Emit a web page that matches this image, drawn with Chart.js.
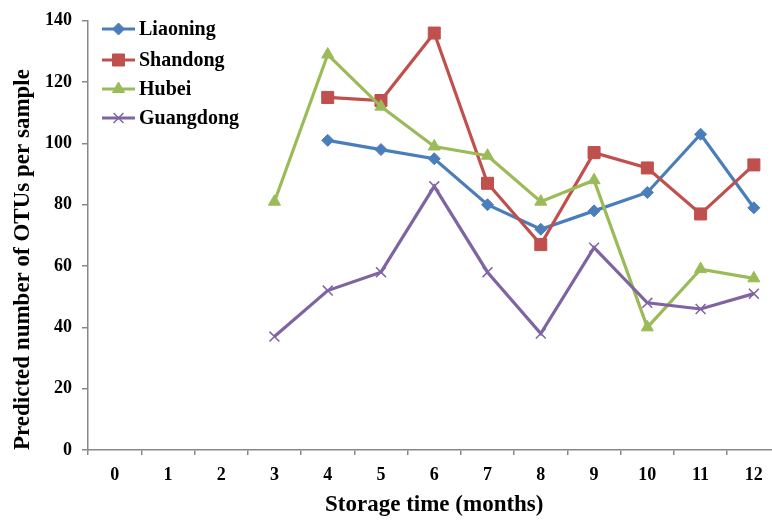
<!DOCTYPE html>
<html>
<head>
<meta charset="utf-8">
<script src="https://cdn.jsdelivr.net/npm/chart.js@4/dist/chart.umd.min.js"></script>
<style>
  html, body { margin: 0; padding: 0; background: #fff; overflow: hidden; }
  #wrap { width: 772px; height: 523px; overflow: hidden; position: relative; }
  canvas { display: block; }
</style>
</head>
<body>
<div id="wrap"><canvas id="c" width="790" height="523" style="width:790px;height:523px"></canvas></div>
<script>
const months = ['0','1','2','3','4','5','6','7','8','9','10','11','12'];
const liaoning  = [null, null, null, null, 101, 98, 95, 80, 72, 78, 84, 103, 79];
const shandong  = [null, null, null, null, 115, 114, 136, 87, 67, 97, 92, 77, 93];
const hubei     = [null, null, null, 81, 129, 112, 99, 96, 81, 88, 40, 59, 56];
const guangdong = [null, null, null, 37, 52, 58, 86, 58, 38, 66, 48, 46, 51];
const yTicks = [0, 20, 40, 60, 80, 100, 120, 140];

const FONT = '"Liberation Serif", "Times New Roman", serif';
const AXIS = '#888888';

function ds(label, data, color, style, radius, order, extra) {
  return Object.assign({
    label, data, order,
    borderColor: color, backgroundColor: color,
    pointBackgroundColor: color, pointBorderColor: color,
    pointStyle: style, pointRadius: radius, pointHoverRadius: radius,
    borderWidth: 3.2, pointBorderWidth: 1, tension: 0, spanGaps: false
  }, extra || {});
}

const datasets = [
  ds('Liaoning', liaoning, '#4A7EBB', 'rectRot', 6, 4),
  ds('Shandong', shandong, '#C0504D', 'rect', 8.5, 3),
  ds('Hubei', hubei, '#9BBB59', 'triangle', 7, 2),
  ds('Guangdong', guangdong, '#8064A2', 'crossRot', 7, 1, { pointBorderWidth: 1.5 })
];

const legendPlugin = {
  id: 'insideLegend',
  afterDraw(chart) {
    const ctx = chart.ctx;
    const x0 = 102, x1 = 135, tx = 139;
    const ys = [29, 60, 89, 118];
    ctx.save();
    chart.data.datasets.forEach((d, i) => {
      const y = ys[i];
      ctx.strokeStyle = d.borderColor;
      ctx.lineWidth = 3.2;
      ctx.beginPath(); ctx.moveTo(x0, y); ctx.lineTo(x1, y); ctx.stroke();
      ctx.fillStyle = d.pointBackgroundColor;
      ctx.strokeStyle = d.pointBorderColor;
      ctx.lineWidth = d.pointBorderWidth;
      Chart.helpers.drawPoint(ctx, { pointStyle: d.pointStyle, radius: d.pointRadius, rotation: 0, borderWidth: d.pointBorderWidth }, (x0 + x1) / 2, y);
      ctx.fillStyle = '#000';
      ctx.font = 'bold 20px ' + FONT;
      ctx.textAlign = 'left';
      ctx.textBaseline = 'middle';
      ctx.fillText(d.label, tx, y + 1);
    });
    ctx.restore();
  }
};

new Chart(document.getElementById('c'), {
  type: 'line',
  data: { labels: months, datasets },
  plugins: [legendPlugin],
  options: {
    responsive: false,
    animation: false,
    devicePixelRatio: 1,
    layout: { padding: { top: 13, right: 3, left: 0, bottom: 0 } },
    plugins: { legend: { display: false }, tooltip: { enabled: false } },
    scales: {
      x: {
        type: 'category',
        offset: true,
        afterFit(s) { s.height = 73; },
        grid: { drawOnChartArea: false, drawTicks: true, tickLength: 5, color: AXIS, offset: true, lineWidth: 1.5 },
        border: { color: AXIS, width: 1.5 },
        ticks: { color: '#000', font: { family: FONT, size: 18, weight: 'bold' }, padding: 10, maxRotation: 0, autoSkip: false },
        title: { display: true, text: 'Storage time (months)', color: '#000', font: { family: FONT, size: 23, weight: 'bold' }, padding: { top: 0, bottom: 4 } }
      },
      y: {
        min: 0, max: 140,
        afterFit(s) { s.width = 88; },
        afterBuildTicks(s) { s.ticks = yTicks.map(v => ({ value: v })); },
        grid: { drawOnChartArea: false, drawTicks: true, tickLength: 6, color: AXIS, lineWidth: 1.5 },
        border: { color: AXIS, width: 1.5 },
        ticks: { color: '#000', font: { family: FONT, size: 18, weight: 'bold' }, padding: 10 },
        title: { display: true, text: 'Predicted number of OTUs per sample', align: 'start', color: '#000', font: { family: FONT, size: 23, weight: 'bold' }, padding: { top: 9, bottom: 0 } }
      }
    }
  }
});
</script>
</body>
</html>
